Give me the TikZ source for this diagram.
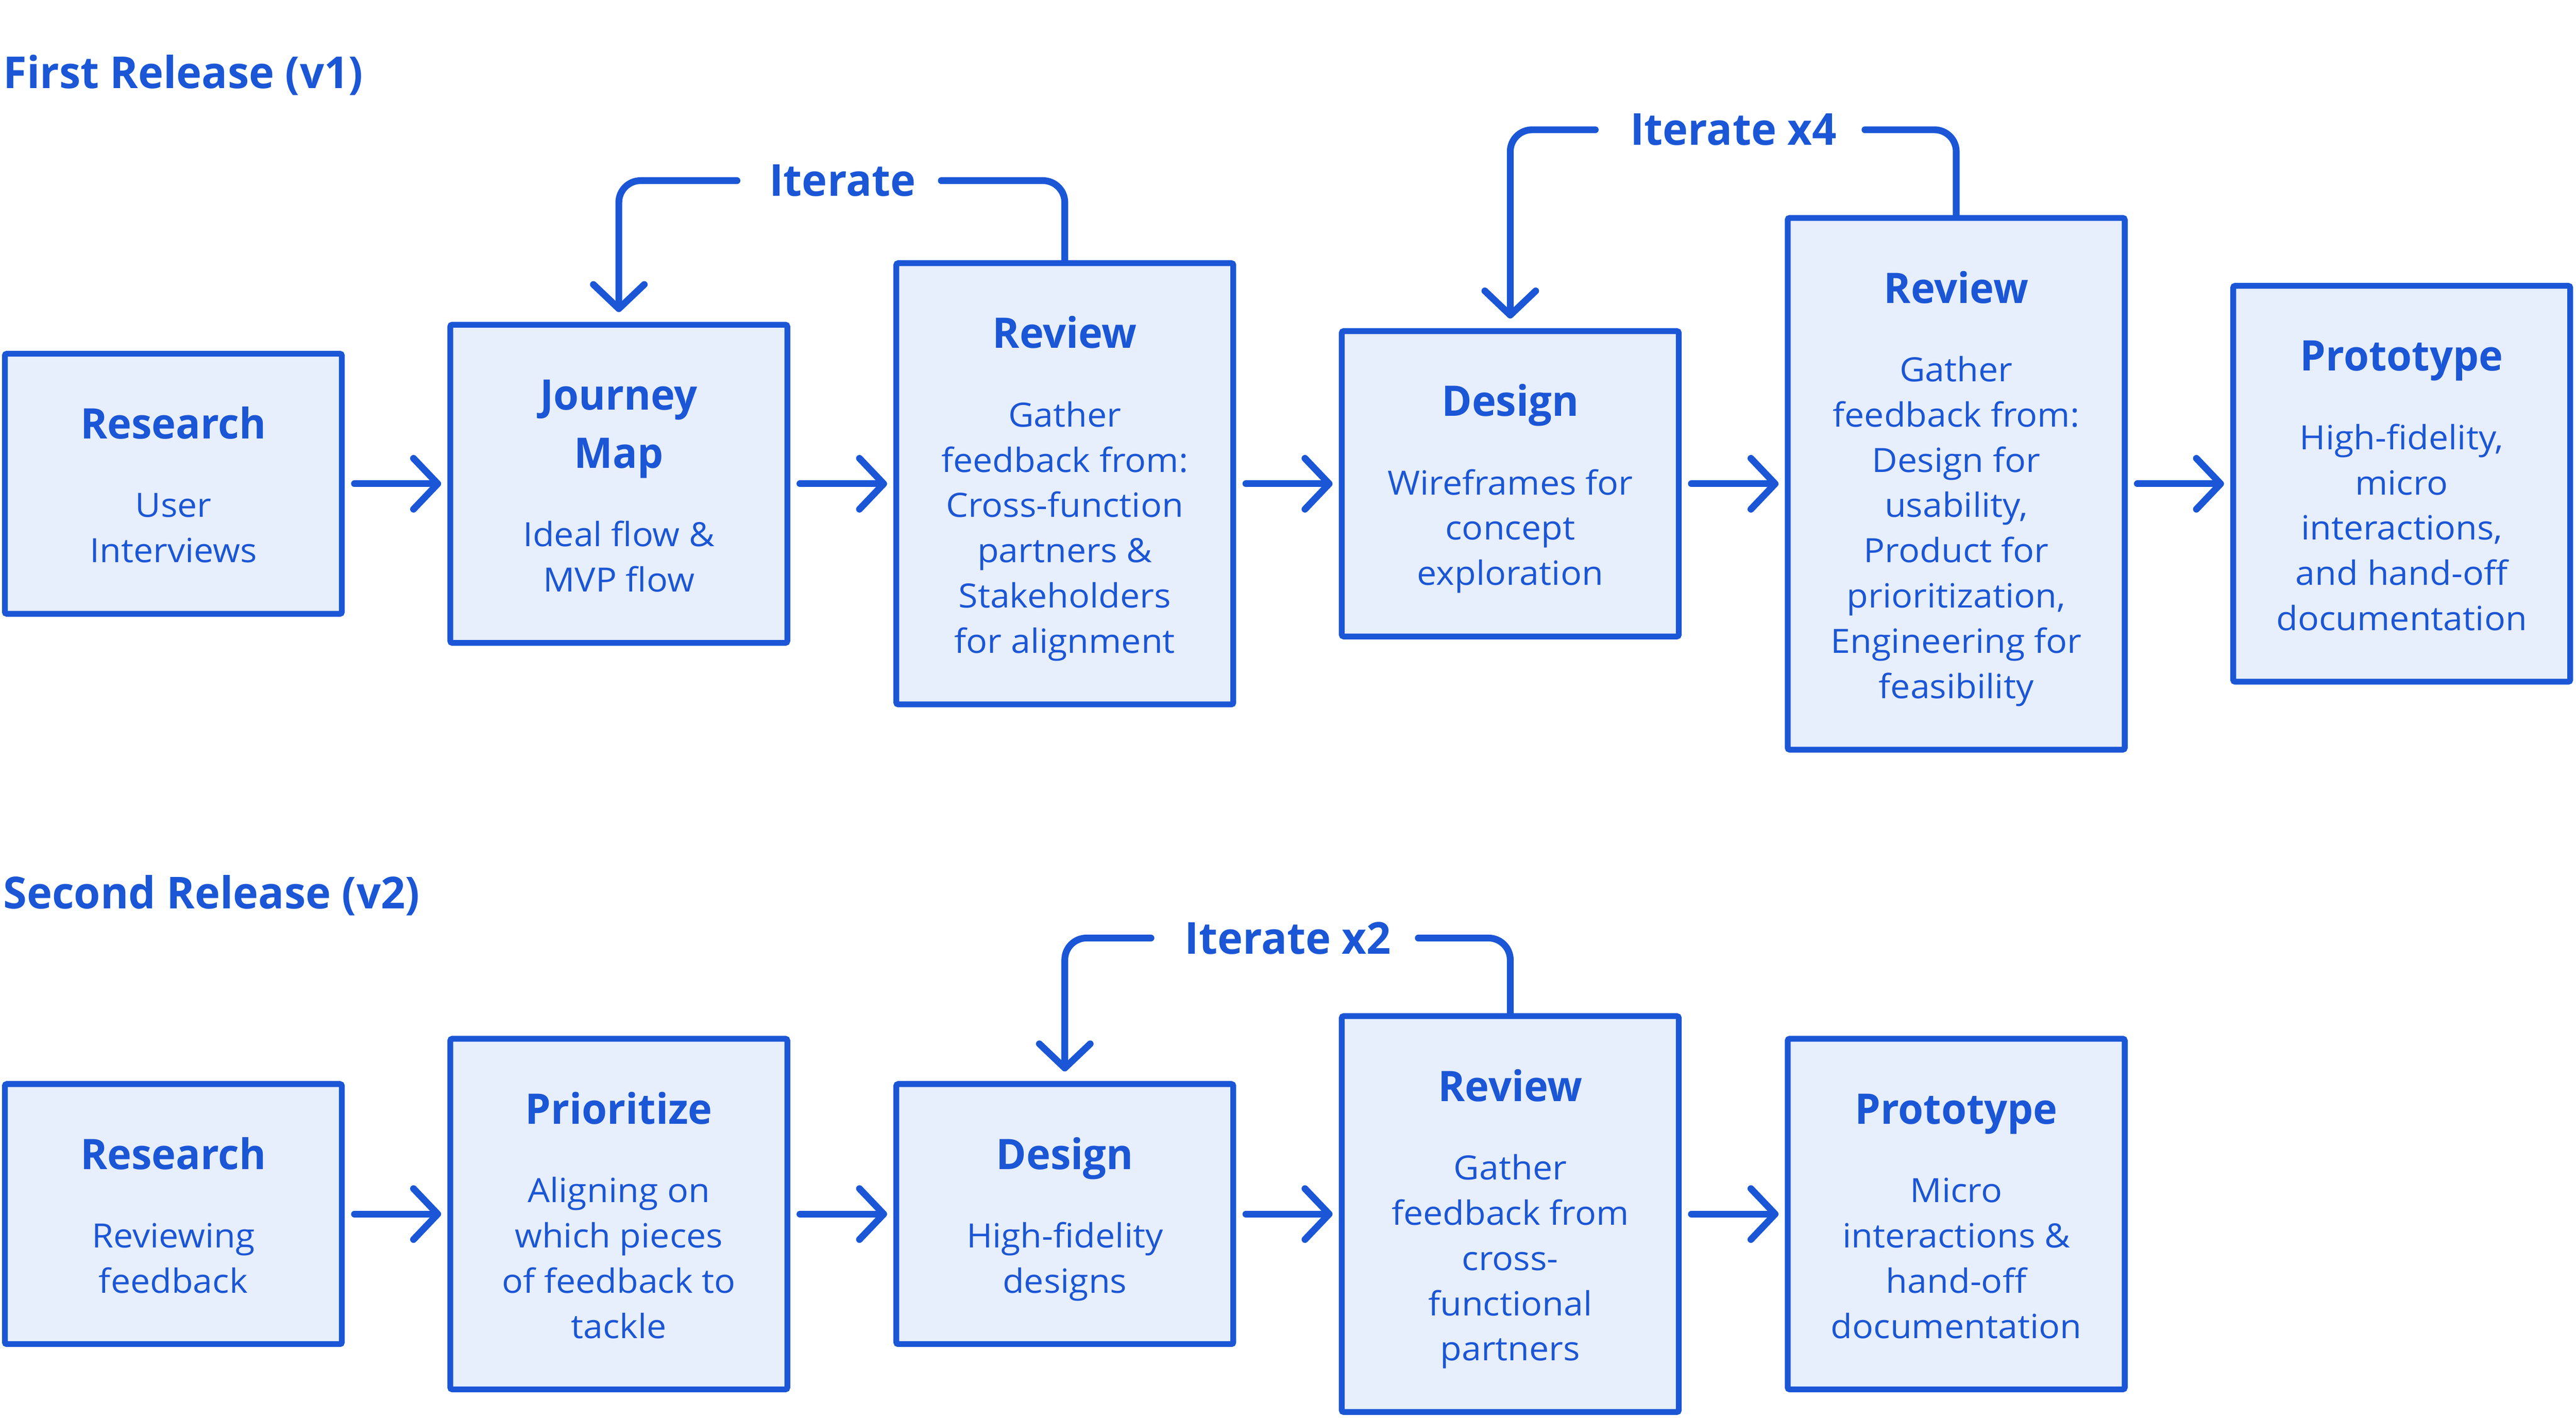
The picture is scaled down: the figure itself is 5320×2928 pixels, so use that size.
\documentclass[tikz,border=0pt]{standalone}
\usepackage{fontspec}
\setmainfont{Open Sans}[UprightFeatures={FakeStretch=1.05}, BoldFeatures={FakeStretch=0.97}]
\usetikzlibrary{arrows.meta}
\definecolor{bblue}{HTML}{1A56D6}
\definecolor{bfill}{HTML}{E7EEFC}
\tikzset{
  stepbox/.style={draw=bblue, fill=bfill, line width=2.4pt, rounded corners=0.8pt,
    minimum width=139.2pt, inner sep=0pt},
  boxtitle/.style={anchor=base, inner sep=0pt, text=bblue, font=\fontsize{17.4pt}{20pt}\selectfont\bfseries},
  boxbody/.style={anchor=base, inner sep=0pt, text=bblue, font=\fontsize{13.8pt}{16pt}\selectfont},
  sectitle/.style={anchor=base west, inner sep=0pt, text=bblue, font=\fontsize{18.2pt}{21pt}\selectfont\bfseries},
  itlabel/.style={inner sep=0pt, text=bblue, font=\fontsize{18.2pt}{21pt}\selectfont\bfseries},
  flowarrow/.style={draw=bblue, line width=2.8pt, line cap=round,
    shorten <=4pt, shorten >=2.6pt,
    -{Straight Barb[length=10pt, width=21pt, round]}},
  iterline/.style={draw=bblue, line width=2.8pt, line cap=round, rounded corners=9pt,
    shorten <=2.8pt, shorten >=4pt,
    -{Straight Barb[length=10pt, width=21pt, round]}}
}
% #1 name, #2 cx, #3 cy, #4 title lines, #5 body lines, #6 title list, #7 body list
\newcommand\flowbox[7]{%
  \pgfmathsetmacro\fbH{549+120*(#4-1)+93.5*(#5-2)-12}%
  \pgfmathsetmacro\fbS{120*(#4-1)+162+93.5*(#5-1)}%
  \pgfmathsetmacro\fbFirst{#3+35-\fbS/2}%
  \pgfmathsetmacro\fbBody{\fbFirst+120*(#4-1)+162}%
  \node[stepbox, minimum height=\fbH*0.2pt] (#1) at (#2,#3) {};
  \foreach \tl [count=\k] in {#6} {\node[boxtitle] (#1-t\k) at (#2,\fbFirst+120*\k-120) {\tl};}
  \foreach \tl [count=\k] in {#7} {\node[boxbody] (#1-b\k) at (#2,\fbBody+93.5*\k-93.5) {\tl};}
}
\begin{document}
\begin{tikzpicture}[x=0.2pt,y=-0.2pt]
\useasboundingbox (0,0) rectangle (5320,2928);

\node[sectitle] (sec1) at (6,183) {First Release (v1)};
\node[sectitle] (sec2) at (6,1876) {Second Release (v2)};

% Row 1
\flowbox{ra}{358}{999}{1}{2}{Research}{User,Interviews}
\flowbox{jm}{1278}{999}{2}{2}{Journey,Map}{Ideal flow \&,MVP flow}
\flowbox{rva}{2199}{999}{1}{6}{Review}{Gather,feedback from:,Cross-function,partners \&,Stakeholders,for alignment}
\flowbox{dsa}{3119}{999}{1}{3}{Design}{Wireframes for,concept,exploration}
\flowbox{rvb}{4040}{999}{1}{8}{Review}{Gather,feedback from:,Design for,{usability,},Product for,{prioritization,},Engineering for,feasibility}
\flowbox{pta}{4960}{999}{1}{5}{Prototype}{{High-fidelity,},micro,{interactions,},and hand-off,documentation}

% Row 2
\flowbox{rb}{358}{2507}{1}{2}{Research}{Reviewing,feedback}
\flowbox{pr}{1278}{2507}{1}{4}{Prioritize}{Aligning on,which pieces,of feedback to,tackle}
\flowbox{dsb}{2199}{2507}{1}{2}{Design}{High-fidelity,designs}
\flowbox{rvc}{3119}{2507}{1}{5}{Review}{Gather,feedback from,cross-,functional,partners}
\flowbox{ptb}{4040}{2507}{1}{4}{Prototype}{Micro,interactions \&,hand-off,documentation}

% flow arrows
\draw[flowarrow] (ra) -- (jm);
\draw[flowarrow] (jm) -- (rva);
\draw[flowarrow] (rva) -- (dsa);
\draw[flowarrow] (dsa) -- (rvb);
\draw[flowarrow] (rvb) -- (pta);
\draw[flowarrow] (rb) -- (pr);
\draw[flowarrow] (pr) -- (dsb);
\draw[flowarrow] (dsb) -- (rvc);
\draw[flowarrow] (rvc) -- (ptb);

% iterate loops
\node[itlabel, minimum width=81.2pt] (ita) at (1740,373) {Iterate};
\node[itlabel, minimum width=108.2pt] (itb) at (3580,268) {Iterate x4};
\node[itlabel, minimum width=107.2pt] (itc) at (2660,1937) {Iterate x2};
\draw[iterline] (rva) |- (ita) -| (jm);
\draw[iterline] (rvb) |- (itb) -| (dsa);
\draw[iterline] (rvc) |- (itc) -| (dsb);
\end{tikzpicture}
\end{document}
